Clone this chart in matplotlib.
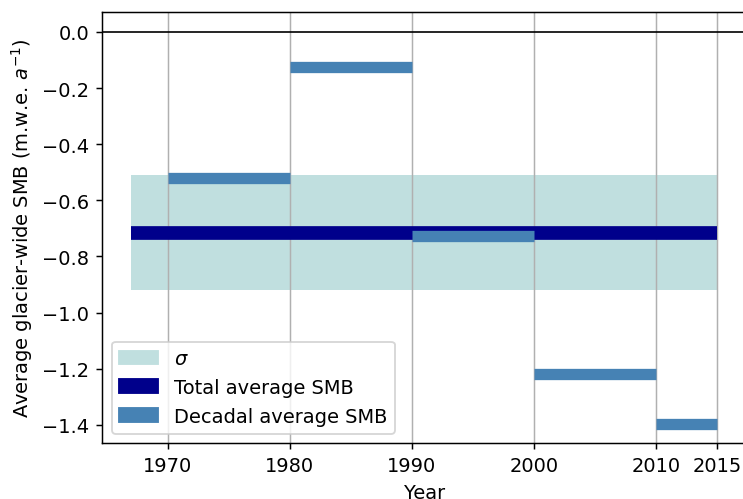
import matplotlib
matplotlib.use("Agg")
import matplotlib.pyplot as plt
from matplotlib.patches import Patch

# Data
period_start = 1967
period_end = 2015
total_mean = -0.715
total_sigma = 0.206
decade_starts = [1970, 1980, 1990, 2000, 2010]
decade_ends = [1980, 1990, 2000, 2010, 2015]
decadal_smb = [-0.521, -0.126, -0.727, -1.218, -1.396]
xticks = [1970, 1980, 1990, 2000, 2010, 2015]
yticks = [0.0, -0.2, -0.4, -0.6, -0.8, -1.0, -1.2, -1.4]

plt.rcParams['font.size'] = 10.5

fig = plt.figure(figsize=(5.58, 3.75), dpi=133.333)
ax = fig.add_axes([102 / 744, 1 - 444.3 / 500, (746.3 - 102) / 744, (444.3 - 13.3) / 500])

c_sigma = "#c0dfdf"
c_total = "darkblue"
c_dec = "steelblue"

ax.fill_between([period_start, period_end], total_mean - total_sigma, total_mean + total_sigma,
                color=c_sigma, linewidth=0)
ax.plot([period_start, period_end], [total_mean, total_mean], color=c_total, lw=7.4,
        solid_capstyle="butt")
for s, e, v in zip(decade_starts, decade_ends, decadal_smb):
    ax.plot([s, e], [v, v], color=c_dec, lw=6.1, solid_capstyle="butt")

ax.axhline(0, color="black", lw=0.9)

ax.set_xlim(1964.6, 2017.4)
ax.set_ylim(-1.4655, 0.0698)
ax.set_xticks(xticks)
ax.set_yticks(yticks)
ax.xaxis.grid(True)
ax.set_xlabel("Year")
ax.set_ylabel("Average glacier-wide SMB (m.w.e. $a^{-1}$)")

handles = [Patch(color=c_sigma, label=r"$\sigma$"),
           Patch(color=c_total, label="Total average SMB"),
           Patch(color=c_dec, label="Decadal average SMB")]
ax.legend(handles=handles, loc="lower left")

fig.savefig("out.png", dpi=133.333)
